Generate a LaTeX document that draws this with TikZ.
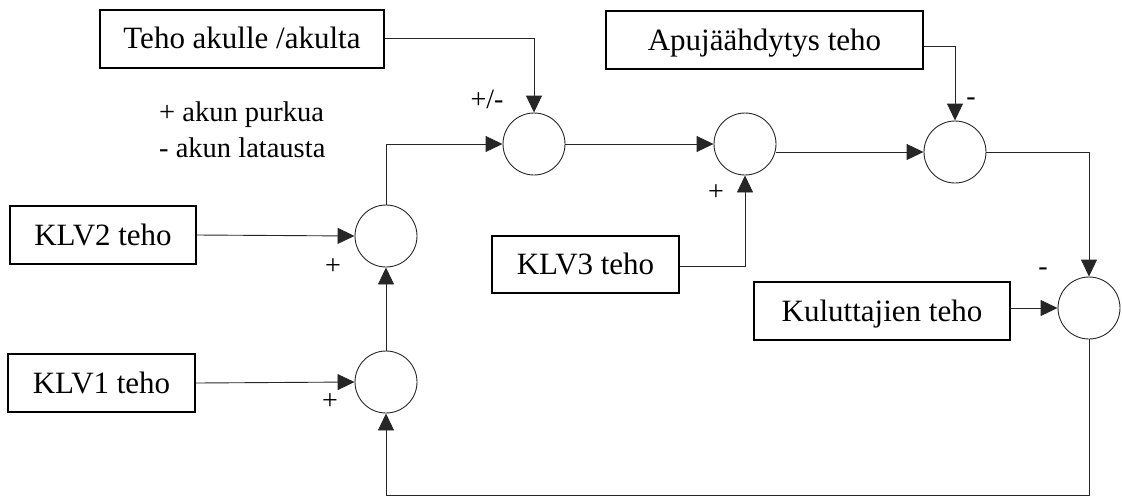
\documentclass[tikz,border=0pt]{standalone}
\usepackage{fontspec}
\setmainfont{Liberation Serif}
\usetikzlibrary{arrows.meta}
\begin{document}
\begin{tikzpicture}[x=1pt,y=-1pt,
  blk/.style={draw=black,line width=2pt,minimum height=58pt,inner sep=0pt,
    font=\fontsize{31}{37}\selectfont,text height=20.5pt,text depth=0pt},
  sumc/.style={circle,draw=black!85,line width=0.9pt,minimum size=62pt,inner sep=0pt},
  conn/.style={draw=black!85,line width=0.9pt,-{Triangle[length=17pt,width=16pt]}},
  sgn/.style={font=\fontsize{28}{32}\selectfont,inner sep=0pt}]
\useasboundingbox (0,0) rectangle (1122,496);
% boxes
\node[blk,minimum width=284pt] (teho) at (242,38.5) {Teho akulle /akulta};
\node[blk,minimum width=317pt] (apu) at (764.5,40) {Apujäähdytys teho};
\node[blk,minimum width=186pt] (klv2) at (103,235) {KLV2 teho};
\node[blk,minimum width=187pt] (klv1) at (101.5,383) {KLV1 teho};
\node[blk,minimum width=187pt,minimum height=57pt] (klv3) at (585.5,264.5) {KLV3 teho};
\node[blk,minimum width=256pt] (kulu) at (882,311) {Kuluttajien teho};
% summing junctions
\node[sumc] (s1) at (386,382) {};
\node[sumc] (s2) at (386,236) {};
\node[sumc] (s3) at (534,144) {};
\node[sumc] (s3b) at (745,144) {};
\node[sumc] (s4) at (955,152) {};
\node[sumc] (k) at (1089,308) {};
% note
\node[anchor=west,align=left,inner sep=0pt,font=\fontsize{28.5}{36}\selectfont] (note) at (159,130) {+ akun purkua\\- akun latausta};
% signs
\node[sgn] (pm) at (487,99) {+/-};
\node[sgn] (p2) at (333,267) {+};
\node[sgn] (p1) at (330,402) {+};
\node[sgn] (p3) at (716,193) {+};
\node[sgn] (m4) at (971,102) {-};
\node[sgn] (mk) at (1043,272) {-};
% connectors
\coordinate (fb) at (0,495);
\draw[conn] (teho.east) -| (s3.north);
\draw[conn] ([yshift=-6pt]apu.east) -| (s4.north);
\draw[conn] (klv2.east) -- (s2.west);
\draw[conn] (klv1.east) -- (s1.west);
\draw[conn] (s1.north) -- (s2.south);
\draw[conn] (s2.north) |- (s3.west);
\draw[conn] (s3.east) -- (s3b.west);
\draw[conn] (s4.west -| s3b.east) -- (s4.west);
\draw[conn] ([yshift=-1.5pt]klv3.east) -| (s3b.south);
\draw[conn] (s4.east) -| (k.north);
\draw[conn] (k.west -| kulu.east) -- (k.west);
\draw[conn] (k.south) |- (s1.south |- fb) -- (s1.south);
\end{tikzpicture}
\end{document}
